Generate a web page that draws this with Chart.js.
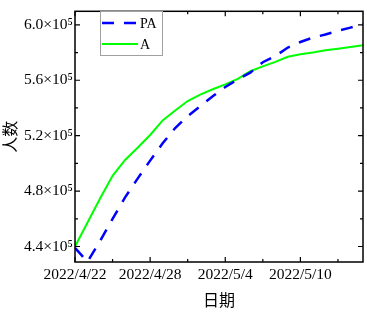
<!DOCTYPE html>
<html><head><meta charset="utf-8">
<script src="https://cdn.jsdelivr.net/npm/chart.js@4/dist/chart.umd.min.js"></script>
<style>html,body{margin:0;padding:0;background:#fff;}canvas{display:block;}</style>
</head><body>
<canvas id="c" width="367" height="313"></canvas>
<script>
// Categories: daily dates
const dates = ['2022/4/22','2022/4/23','2022/4/24','2022/4/25','2022/4/26','2022/4/27','2022/4/28','2022/4/29','2022/4/30','2022/5/1','2022/5/2','2022/5/3','2022/5/4','2022/5/5','2022/5/6','2022/5/7','2022/5/8','2022/5/9','2022/5/10','2022/5/11','2022/5/12','2022/5/13','2022/5/14','2022/5/15'];
// Series (people)
const seriesPA = [439000,429000,444000,460000,475500,489000,502000,514500,525500,534100,541300,548500,555100,560700,565500,573000,577500,583600,587600,590800,593000,595700,598000,600500];
const seriesA  = [440000,457300,474600,491000,502500,511300,520500,531000,538200,545000,549700,553500,557000,561000,566500,570000,573300,577000,578700,580000,581700,582800,584000,585200];
// Axis ticks
const xTickValues = [0, 6, 12, 18];
const xTickLabels = ['2022/4/22','2022/4/28','2022/5/4','2022/5/10'];
const xMinorValues = [3, 9, 15, 21];
const yTickValues = [440000, 480000, 520000, 560000, 600000];
const yTickLabels = ['4.4×10⁵','4.8×10⁵','5.2×10⁵','5.6×10⁵','6.0×10⁵'];
const yMinorValues = [460000, 500000, 540000, 580000];
const seriesNames = ['PA', 'A'];

const serif = "'Liberation Serif','Times New Roman',serif";
const cjk = "'Noto Sans CJK SC',sans-serif";

const frame = {
  id: 'frame',
  afterDraw(chart) {
    const {ctx, chartArea: a, scales} = chart;
    ctx.save();
    ctx.strokeStyle = '#000';
    ctx.lineWidth = 1.5;
    ctx.strokeRect(a.left, a.top, a.right - a.left, a.bottom - a.top);
    ctx.lineWidth = 1.2;
    const tick = (vals, len) => {
      vals.forEach(v => {
        const x = scales.x.getPixelForValue(v);
        ctx.beginPath();
        ctx.moveTo(x, a.bottom); ctx.lineTo(x, a.bottom - len);
        ctx.moveTo(x, a.top); ctx.lineTo(x, a.top + len);
        ctx.stroke();
      });
    };
    const tickY = (vals, len) => {
      vals.forEach(v => {
        const y = scales.y.getPixelForValue(v);
        ctx.beginPath();
        ctx.moveTo(a.left, y); ctx.lineTo(a.left + len, y);
        ctx.moveTo(a.right, y); ctx.lineTo(a.right - len, y);
        ctx.stroke();
      });
    };
    tick(xTickValues, 5); tick(xMinorValues, 3);
    tickY(yTickValues, 5); tickY(yMinorValues, 3);
    // legend
    const lx = 100, ly = 11, lw = 62, lh = 44;
    ctx.fillStyle = '#fff';
    ctx.fillRect(lx, ly, lw, lh);
    ctx.strokeStyle = '#a0a0a0';
    ctx.lineWidth = 1;
    ctx.strokeRect(lx + 0.5, ly + 0.5, lw, lh);
    chart.data.datasets.forEach((ds, i) => {
      const yy = ly + 12 + i * 21;
      ctx.strokeStyle = ds.borderColor;
      ctx.lineWidth = ds.borderWidth;
      ctx.setLineDash(ds.borderDash || []);
      ctx.beginPath();
      ctx.moveTo(lx + 2, yy); ctx.lineTo(lx + 38, yy);
      ctx.stroke();
      ctx.setLineDash([]);
      ctx.fillStyle = '#000';
      ctx.font = '14px ' + serif;
      ctx.textBaseline = 'middle';
      ctx.textAlign = 'left';
      ctx.fillText(ds.label, lx + 40, yy + 1);
    });
    ctx.restore();
  }
};

new Chart(document.getElementById('c'), {
  type: 'line',
  data: {
    datasets: [
      { label: seriesNames[0], data: seriesPA.map((v, i) => ({x: i, y: v})), borderColor: '#0000ff', borderWidth: 2.5, borderDash: [12, 10], pointRadius: 0, tension: 0, fill: false },
      { label: seriesNames[1], data: seriesA.map((v, i) => ({x: i, y: v})), borderColor: '#00ff00', borderWidth: 2, pointRadius: 0, tension: 0, fill: false }
    ]
  },
  options: {
    responsive: false,
    devicePixelRatio: 1,
    animation: false,
    layout: { padding: { top: 2, right: 4, left: 0, bottom: 0 } },
    plugins: { legend: { display: false }, tooltip: { enabled: false } },
    scales: {
      x: {
        type: 'linear', min: 0, max: 23,
        afterBuildTicks: s => { s.ticks = xTickValues.map(v => ({value: v})); },
        afterFit: s => { s.height = 51; },
        grid: { display: false, drawTicks: false },
        border: { display: false },
        ticks: { padding: 4, color: '#000', font: { family: serif, size: 15.5 }, maxRotation: 0, autoSkip: false,
          callback: v => xTickLabels[xTickValues.indexOf(v)] },
        title: { display: true, text: '日期', color: '#000', font: { family: cjk, size: 16 }, padding: { top: 0, bottom: 3 } }
      },
      y: {
        type: 'linear', min: 428820, max: 609780,
        afterBuildTicks: s => { s.ticks = yTickValues.map(v => ({value: v})); },
        afterFit: s => { s.width = 75; },
        grid: { display: false, drawTicks: false },
        border: { display: false },
        ticks: { padding: 2, color: '#000', font: { family: serif, size: 15.5 },
          callback: v => yTickLabels[yTickValues.indexOf(v)] },
        title: { display: true, text: '人数', color: '#000', font: { family: cjk, size: 16 }, padding: { top: 0, bottom: 0 } }
      }
    }
  },
  plugins: [frame]
});
</script>
</body></html>
